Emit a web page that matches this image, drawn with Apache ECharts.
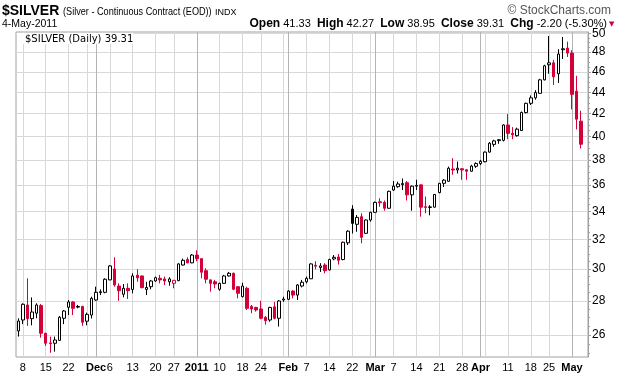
<!DOCTYPE html>
<html>
<head>
<meta charset="utf-8">
<script src="https://cdn.jsdelivr.net/npm/echarts@6/dist/echarts.min.js"></script>
<style>
  html, body { margin: 0; padding: 0; background: #fff; }
  #chart { width: 620px; height: 376px; }
</style>
</head>
<body>
<div id="chart"></div>
<script>
// trading days shown, per month
const tradingDays = {
  '2010-11': [5, 8, 9, 10, 11, 12, 15, 16, 17, 18, 19, 22, 23, 24, 26, 29, 30],
  '2010-12': [1, 2, 3, 6, 7, 8, 9, 10, 13, 14, 15, 16, 17, 20, 21, 22, 23, 27, 28, 29, 30, 31],
  '2011-01': [3, 4, 5, 6, 7, 10, 11, 12, 13, 14, 18, 19, 20, 21, 24, 25, 26, 27, 28, 31],
  '2011-02': [1, 2, 3, 4, 7, 8, 9, 10, 11, 14, 15, 16, 17, 18, 22, 23, 24, 25, 28],
  '2011-03': [1, 2, 3, 4, 7, 8, 9, 10, 11, 14, 15, 16, 17, 18, 21, 22, 23, 24, 25, 28, 29, 30, 31],
  '2011-04': [1, 4, 5, 6, 7, 8, 11, 12, 13, 14, 15, 18, 19, 20, 21, 25, 26, 27, 28, 29],
  '2011-05': [2, 3, 4]
}

const opens = [
  26.23, 26.86, 27.75, 26.94, 27.26, 27.71, 26.10, 25.56, 25.54, 25.70,
  26.96, 27.61, 27.93, 27.62, 27.66, 26.79, 27.15, 28.05, 28.50, 28.52,
  29.30, 30.00, 28.91, 28.40, 28.77, 28.70, 29.60, 29.55, 28.70, 28.87,
  29.23, 29.40, 29.36, 29.18, 29.08, 29.25, 30.26, 30.62, 30.40, 30.92,
  30.68, 29.89, 29.30, 29.18, 28.71, 29.08, 29.55, 29.72, 28.87, 28.25,
  28.77, 27.66, 27.60, 27.51, 27.02, 26.86, 27.64, 26.96, 28.05, 28.09,
  28.60, 28.35, 28.91, 29.18, 29.37, 30.24, 30.10, 30.26, 29.94, 30.66,
  30.79, 30.62, 31.75, 34.16, 33.05, 33.60, 32.41, 33.36, 33.92, 34.70,
  34.66, 34.22, 35.60, 35.86, 36.02, 36.17, 35.23, 35.90, 36.00, 34.34,
  34.28, 34.30, 35.40, 36.12, 36.28, 37.26, 37.18, 37.28, 37.20, 37.08,
  37.48, 37.70, 37.85, 38.65, 39.30, 39.62, 39.65, 40.99, 40.25, 40.05,
  40.50, 42.10, 42.96, 43.47, 43.90, 45.20, 46.70, 46.90, 45.80, 48.25,
  48.42, 47.90, 44.10, 41.33
]
const highs = [
  26.96, 27.85, 29.40, 28.21, 27.85, 27.81, 26.12, 25.91, 25.91, 27.09,
  27.45, 28.05, 27.99, 27.75, 27.70, 27.29, 28.25, 28.87, 28.70, 29.40,
  30.26, 30.77, 29.08, 29.04, 29.08, 29.72, 29.98, 29.58, 29.18, 29.30,
  29.51, 29.62, 29.51, 29.47, 29.30, 30.38, 30.68, 30.77, 30.99, 31.24,
  30.72, 30.05, 29.33, 29.30, 29.12, 29.62, 29.81, 29.77, 28.91, 29.12,
  28.87, 27.75, 27.64, 28.00, 27.09, 27.64, 27.94, 28.05, 28.25, 28.65,
  28.65, 29.04, 29.30, 29.51, 30.38, 30.51, 30.38, 30.38, 30.68, 30.92,
  30.99, 31.83, 32.63, 34.45, 33.72, 33.85, 33.40, 33.96, 34.72, 34.97,
  34.80, 35.55, 36.30, 36.25, 36.50, 36.30, 35.95, 36.40, 36.02, 35.10,
  34.45, 35.28, 36.15, 36.45, 37.45, 38.14, 37.86, 37.32, 37.25, 37.60,
  37.80, 38.00, 38.70, 39.50, 39.70, 39.75, 41.05, 41.97, 40.80, 40.75,
  42.20, 43.02, 43.70, 44.20, 45.30, 46.70, 49.70, 47.20, 48.30, 49.60,
  49.10, 48.20, 45.60, 42.27
]
const lows = [
  25.91, 26.62, 26.52, 26.55, 26.96, 25.85, 25.39, 25.02, 25.08, 25.67,
  26.62, 27.15, 27.15, 27.55, 26.52, 26.55, 26.95, 28.00, 28.35, 28.46,
  29.28, 28.87, 28.00, 28.21, 28.11, 28.46, 29.18, 28.77, 28.35, 28.71,
  29.18, 29.08, 28.97, 28.93, 28.77, 29.22, 30.22, 30.38, 30.38, 30.51,
  29.40, 29.08, 28.56, 28.77, 28.62, 29.05, 29.51, 28.65, 28.15, 28.21,
  27.45, 27.26, 27.35, 26.90, 26.59, 26.76, 26.90, 26.48, 27.94, 28.05,
  28.15, 28.05, 28.83, 29.08, 29.35, 29.98, 29.81, 29.72, 29.90, 30.57,
  30.29, 30.57, 31.60, 32.40, 32.52, 31.72, 32.38, 33.24, 33.88, 34.33,
  34.04, 34.20, 35.53, 35.77, 35.60, 34.80, 34.04, 35.60, 33.60, 33.85,
  33.70, 34.28, 35.35, 35.83, 36.25, 36.80, 36.90, 36.40, 36.40, 37.05,
  37.35, 37.58, 37.80, 38.60, 39.10, 39.35, 39.55, 39.75, 39.75, 39.97,
  40.45, 42.04, 42.80, 43.30, 43.85, 45.15, 45.80, 44.70, 44.90, 47.30,
  47.50, 42.40, 40.60, 38.95
]
const closes = [
  26.80, 27.79, 26.94, 27.33, 27.75, 26.10, 25.54, 25.52, 25.72, 27.02,
  27.39, 27.93, 27.55, 27.66, 26.73, 27.19, 28.15, 28.52, 28.56, 29.34,
  30.20, 28.98, 28.62, 28.77, 28.62, 29.55, 29.43, 28.81, 28.82, 29.23,
  29.44, 29.30, 29.23, 29.36, 29.27, 30.33, 30.57, 30.40, 30.92, 30.68,
  29.79, 29.34, 29.08, 29.04, 29.08, 29.55, 29.72, 28.71, 28.46, 28.91,
  27.55, 27.51, 27.45, 26.96, 26.82, 27.60, 26.96, 27.99, 28.11, 28.60,
  28.35, 28.98, 29.15, 29.40, 30.33, 30.18, 30.20, 29.89, 30.62, 30.77,
  30.57, 31.79, 32.56, 33.12, 33.55, 32.13, 33.36, 33.92, 34.66, 34.64,
  34.22, 35.50, 35.90, 36.07, 36.10, 35.23, 35.90, 35.96, 34.30, 34.28,
  34.32, 35.26, 36.12, 36.37, 37.32, 37.18, 37.32, 37.18, 37.08, 37.50,
  37.70, 37.88, 38.65, 39.40, 39.60, 39.70, 40.99, 40.25, 40.12, 40.62,
  42.12, 42.96, 43.47, 43.97, 45.20, 46.60, 46.90, 45.50, 47.80, 48.35,
  47.90, 43.80, 41.51, 39.31
]

const priceTicks = [26, 28, 30, 32, 34, 36, 38, 40, 42, 44, 46, 48, 50]

// first trading day of each week (light grid) and of each month (darker grid)
const weekStarts = [
  '2010-11-08', '2010-11-15', '2010-11-22', '2010-11-29', '2010-12-06', '2010-12-13',
  '2010-12-20', '2010-12-27', '2011-01-03', '2011-01-10', '2011-01-18', '2011-01-24',
  '2011-01-31', '2011-02-07', '2011-02-14', '2011-02-22', '2011-02-28', '2011-03-07',
  '2011-03-14', '2011-03-21', '2011-03-28', '2011-04-04', '2011-04-11', '2011-04-18',
  '2011-04-25', '2011-05-02'
]
const monthStarts = ['2010-12-01', '2011-01-03', '2011-02-01', '2011-03-01', '2011-04-01', '2011-05-02']

const tickLabels = [
  ['2010-11-08', '8'], ['2010-11-15', '15'], ['2010-11-22', '22'], ['2010-12-01', 'Dec'],
  ['2010-12-06', '6'], ['2010-12-13', '13'], ['2010-12-20', '20'], ['2010-12-27', '27'],
  ['2011-01-03', '2011'], ['2011-01-10', '10'], ['2011-01-18', '18'], ['2011-01-24', '24'],
  ['2011-02-01', 'Feb'], ['2011-02-07', '7'], ['2011-02-14', '14'], ['2011-02-22', '22'],
  ['2011-03-01', 'Mar'], ['2011-03-07', '7'], ['2011-03-14', '14'], ['2011-03-21', '21'],
  ['2011-03-28', '28'], ['2011-04-01', 'Apr'], ['2011-04-11', '11'], ['2011-04-18', '18'],
  ['2011-04-25', '25'], ['2011-05-02', 'May']
]

const RED = '#d3003a'
const FONT = '"Liberation Sans", Arial, sans-serif'

const dates = []
Object.keys(tradingDays).forEach((m) => {
  tradingDays[m].forEach((d) => dates.push(m + '-' + String(d).padStart(2, '0')))
})
// one empty slot on the right of the last bar
const cats = dates.concat(['pad'])

const labelMap = {}
tickLabels.forEach(([d, t]) => { labelMap[d] = t })
const monthSet = new Set(monthStarts)
const weekSet = new Set(weekStarts)

const lg = Math.log
const candles = dates.map((d, i) => {
  const o = opens[i]
  const c = closes[i]
  const prev = i ? closes[i - 1] : o
  const col = c >= prev ? '#000' : RED
  const fill = c > o ? '#fff' : col
  return {
    value: [lg(o), lg(c), lg(lows[i]), lg(highs[i])],
    itemStyle: { color: fill, color0: fill, borderColor: col, borderColor0: col },
  }
})

const minorTicks = []
for (let v = 25; v <= 50; v += 0.5) minorTicks.push(lg(v))

const yMin = lg(24.79)
const yMax = lg(50.14)

const last = closes[closes.length - 1]
const chg = last - closes[closes.length - 2]

const chart = echarts.init(document.getElementById('chart'))
chart.setOption({
  animation: false,
  backgroundColor: '#fff',
  graphic: [
    // header
    {
      type: 'text', x: 2, y: 4,
      style: { text: '$SILVER', font: 'bold 14px ' + FONT, fill: '#000' },
    },
    {
      type: 'text', x: 63, y: 6.5, scaleX: 0.83,
      style: { text: '(Silver - Continuous Contract (EOD))', font: '11px ' + FONT, fill: '#000' },
    },
    {
      type: 'text', x: 215, y: 8.5,
      style: { text: 'INDX', font: '9px ' + FONT, fill: '#000' },
    },
    {
      type: 'text', x: 611, y: 5,
      style: { text: '© StockCharts.com', font: '12px ' + FONT, fill: '#555', align: 'right' },
    },
    {
      type: 'text', x: 2, y: 18.5,
      style: { text: '4-May-2011', font: '10.5px ' + FONT, fill: '#000' },
    },
    {
      type: 'text', x: 607, y: 17.5,
      style: {
        text: '{k|Open} ' + opens[opens.length - 1].toFixed(2) +
          '  {k|High} ' + highs[highs.length - 1].toFixed(2) +
          '  {k|Low} ' + lows[lows.length - 1].toFixed(2) +
          '  {k|Close} ' + last.toFixed(2) +
          '  {k|Chg} ' + chg.toFixed(2) + ' (' + (chg / (last - chg) * 100).toFixed(2) + '%)',
        font: '11px ' + FONT,
        fill: '#000',
        align: 'right',
        rich: { k: { fontFamily: FONT, fontWeight: 'bold', fontSize: 12, color: '#000' } },
      },
    },
    {
      type: 'text', x: 609, y: 21,
      style: { text: '▼', font: '7px "DejaVu Sans"', fill: RED },
    },
    // legend box inside the plot
    {
      type: 'rect', x: 17, y: 33, z: 100,
      shape: { width: 116, height: 11 },
      style: { fill: '#fff' },
    },
    {
      type: 'text', x: 25, y: 34, z: 101,
      style: { text: '$SILVER (Daily) ' + last.toFixed(2), font: '10px "DejaVu Sans"', fill: '#000' },
    },
    {
      type: 'group', x: 17, y: 35, z: 101,
      children: [
        { type: 'rect', shape: { x: 0, y: 1, width: 1.5, height: 6 }, style: { fill: '#000' } },
        { type: 'rect', shape: { x: 2.5, y: 0, width: 1.5, height: 5 }, style: { fill: '#000' } },
        { type: 'rect', shape: { x: 5, y: 2, width: 1.5, height: 5 }, style: { fill: '#000' } },
      ],
    },
  ],
  grid: {
    left: 16, right: 32, top: 32, bottom: 19,
    show: true, borderColor: '#a0a0a0', borderWidth: 1,
  },
  xAxis: [
    {
      type: 'category',
      data: cats,
      boundaryGap: true,
      axisLine: { show: false },
      axisTick: { show: false },
      axisLabel: {
        interval: (i, v) => labelMap[v] !== undefined,
        formatter: (v) => {
          const t = labelMap[v]
          return monthSet.has(v) ? '{m|' + t + '}' : t
        },
        margin: 5,
        fontFamily: FONT,
        fontSize: 11,
        color: '#000',
        rich: { m: { fontFamily: FONT, fontSize: 11, fontWeight: 'bold', color: '#000' } },
      },
      splitLine: {
        show: true,
        alignWithLabel: true,
        interval: (i, v) => weekSet.has(v) && !monthSet.has(v),
        lineStyle: { color: '#d8d8d8', width: 1 },
      },
    },
    {
      type: 'category',
      data: cats,
      boundaryGap: true,
      axisLine: { show: false },
      axisTick: { show: false },
      axisLabel: { show: false },
      splitLine: {
        show: true,
        alignWithLabel: true,
        interval: (i, v) => monthSet.has(v),
        lineStyle: { color: '#b4b4b4', width: 1 },
      },
    },
  ],
  yAxis: [
    {
      type: 'value',
      position: 'right',
      min: yMin,
      max: yMax,
      axisLine: { show: true, lineStyle: { color: '#a0a0a0' } },
      axisTick: {
        show: true, inside: false, length: 3,
        customValues: priceTicks.map(lg),
        lineStyle: { color: '#a0a0a0' },
      },
      axisLabel: {
        customValues: priceTicks.map(lg),
        formatter: (v) => String(Math.round(Math.exp(v))),
        margin: 4,
        fontFamily: FONT,
        fontSize: 12,
        color: '#000',
      },
      splitLine: { show: true, lineStyle: { color: '#d8d8d8' } },
    },
    {
      type: 'value',
      position: 'right',
      min: yMin,
      max: yMax,
      axisLine: { show: false },
      axisTick: {
        show: true, inside: false, length: 2,
        customValues: minorTicks,
        lineStyle: { color: '#a0a0a0' },
      },
      axisLabel: { show: false },
      splitLine: { show: false },
    },
  ],
  series: [
    {
      type: 'candlestick',
      xAxisIndex: 0,
      yAxisIndex: 0,
      barWidth: 3,
      data: candles,
      itemStyle: { borderWidth: 1 },
    },
  ],
})
</script>
</body>
</html>
